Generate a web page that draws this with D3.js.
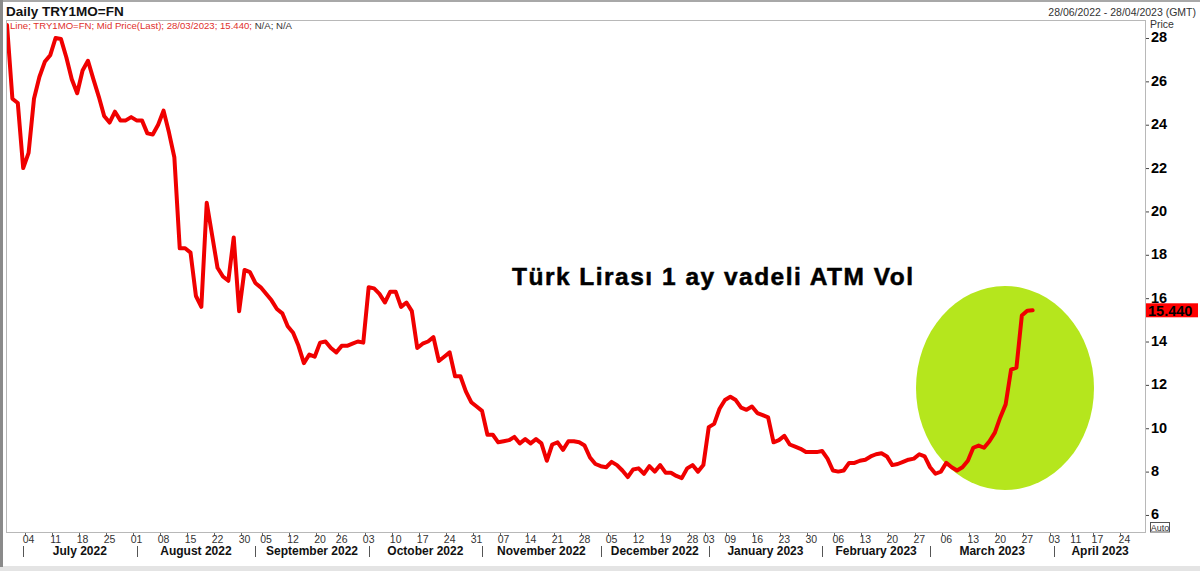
<!DOCTYPE html>
<html>
<head>
<meta charset="utf-8">
<script src="https://cdn.jsdelivr.net/npm/d3@7"></script>
<style>
  body { margin: 0; background: #fff; }
  svg { display: block; font-family: "Liberation Sans", Arial, sans-serif; }
</style>
</head>
<body>
<svg id="chart" width="1200" height="571"></svg>
<script>
// ---- data ----
const startDate = "2022-06-28";
const endDate = "2023-04-28";
// UK holidays, no trading day on the axis
const holidays = ["2022-08-29", "2022-09-19", "2022-12-26", "2022-12-27", "2023-01-02", "2023-04-07", "2023-04-10"];

// TRY1MO=FN mid price, one value per trading day from 28/06/2022 to 28/03/2023
const values = [
  28.6, 25.2, 25.0, 22.0, 22.7, 25.2, 26.2, 26.9, 27.2, 28.0,
  27.95, 27.1, 26.1, 25.45, 26.5, 26.95, 26.1, 25.3, 24.4, 24.1,
  24.6, 24.2, 24.2, 24.35, 24.2, 24.2, 23.6, 23.55, 24.0, 24.65,
  23.65, 22.5, 18.3, 18.3, 18.1, 16.1, 15.6, 20.4, 18.9, 17.4,
  17.0, 16.8, 18.8, 15.4, 17.3, 17.2, 16.7, 16.5, 16.2, 15.9,
  15.5, 15.3, 14.7, 14.4, 13.8, 13.0, 13.4, 13.3, 13.95, 14.0,
  13.7, 13.5, 13.8, 13.8, 13.9, 14.0, 13.95, 16.5, 16.45, 16.2,
  15.8, 16.3, 16.3, 15.6, 15.8, 15.4, 13.7, 13.9, 14.0, 14.2,
  13.1, 13.3, 13.5, 12.4, 12.4, 11.7, 11.2, 11.0, 10.8, 9.7,
  9.7, 9.35, 9.4, 9.45, 9.6, 9.3, 9.5, 9.3, 9.5, 9.3,
  8.5, 9.25, 9.35, 9.0, 9.4, 9.4, 9.35, 9.2, 8.65, 8.35,
  8.25, 8.2, 8.45, 8.3, 8.05, 7.75, 8.1, 8.15, 7.9, 8.25,
  8.0, 8.3, 7.95, 7.95, 7.8, 7.7, 8.15, 8.3, 8.0, 8.3,
  10.05, 10.2, 10.9, 11.3, 11.45, 11.3, 10.95, 10.85, 11.0, 10.7,
  10.6, 10.5, 9.35, 9.45, 9.65, 9.25, 9.15, 9.05, 8.9, 8.9,
  8.9, 8.95, 8.6, 8.05, 8.0, 8.05, 8.4, 8.4, 8.5, 8.55,
  8.7, 8.8, 8.85, 8.7, 8.3, 8.35, 8.45, 8.55, 8.6, 8.8,
  8.7, 8.2, 7.9, 8.0, 8.4, 8.2, 8.05, 8.2, 8.5, 9.1,
  9.2, 9.1, 9.4, 9.8, 10.5, 11.1, 12.7, 12.8, 15.2, 15.42,
  15.44
];

const tickDays = [
  "2022-07-04", "2022-07-11", "2022-07-18", "2022-07-25", "2022-08-01", "2022-08-08",
  "2022-08-15", "2022-08-22", "2022-08-30", "2022-09-05", "2022-09-12", "2022-09-20",
  "2022-09-26", "2022-10-03", "2022-10-10", "2022-10-17", "2022-10-24", "2022-10-31",
  "2022-11-07", "2022-11-14", "2022-11-21", "2022-11-28", "2022-12-05", "2022-12-12",
  "2022-12-19", "2022-12-28", "2023-01-03", "2023-01-09", "2023-01-16", "2023-01-23",
  "2023-01-30", "2023-02-06", "2023-02-13", "2023-02-20", "2023-02-27", "2023-03-06",
  "2023-03-13", "2023-03-20", "2023-03-27", "2023-04-03", "2023-04-11", "2023-04-17",
  "2023-04-24"
];
const priceTicks = [6, 8, 10, 12, 14, 16, 18, 20, 22, 24, 26, 28];
const lastLabel = "15.440";

// ---- layout ----
const svg = d3.select("#chart");
const plot = { left: 6, top: 20, right: 1145, bottom: 532 };

const fmt = d3.utcFormat("%Y-%m-%d");
const parse = d3.utcParse("%Y-%m-%d");

// trading calendar (weekdays minus holidays)
const tradingDays = d3.utcDay.range(parse(startDate), d3.utcDay.offset(parse(endDate), 1))
  .filter(d => d.getUTCDay() !== 0 && d.getUTCDay() !== 6 && !holidays.includes(fmt(d)));
const dayIndex = new Map(tradingDays.map((d, i) => [fmt(d), i]));

const x = d3.scaleLinear().domain([0, tradingDays.length - 1]).range([7, 1146]);
const y = d3.scaleLinear().domain([5.214, 28.83]).range([plot.bottom, plot.top]);

// outer frame
svg.append("rect").attr("x", 0).attr("y", 0).attr("width", 1200).attr("height", 571).attr("fill", "#fff");
svg.append("rect").attr("x", 0).attr("y", 566).attr("width", 1200).attr("height", 5).attr("fill", "#e4e4e4");
svg.append("rect").attr("x", 0).attr("y", 0).attr("width", 1200).attr("height", 2).attr("fill", "#a8a8a8");
svg.append("rect").attr("x", 0).attr("y", 0).attr("width", 3).attr("height", 567).attr("fill", "#8a8a8a");

// header
svg.append("text").attr("x", 6).attr("y", 16)
  .attr("font-size", 13.5).attr("font-weight", "bold").attr("fill", "#111")
  .text("Daily TRY1MO=FN");
svg.append("text").attr("x", 1196).attr("y", 16).attr("text-anchor", "end")
  .attr("font-size", 10.5).attr("fill", "#333")
  .text("28/06/2022 - 28/04/2023 (GMT)");

// plot frame
svg.append("rect")
  .attr("x", plot.left + 0.5).attr("y", plot.top + 0.5)
  .attr("width", plot.right - plot.left).attr("height", plot.bottom - plot.top)
  .attr("fill", "none").attr("stroke", "#b8b8b8");

svg.append("clipPath").attr("id", "clip")
  .append("rect")
  .attr("x", plot.left + 1).attr("y", plot.top + 1)
  .attr("width", plot.right - plot.left - 1).attr("height", plot.bottom - plot.top - 1);

const g = svg.append("g").attr("clip-path", "url(#clip)");

// green highlight
g.append("ellipse")
  .attr("cx", 1005).attr("cy", 388).attr("rx", 89).attr("ry", 102)
  .attr("fill", "#b5e61d");

// title
g.append("text").attr("x", 512).attr("y", 285)
  .attr("font-size", 24.5).attr("font-weight", "bold").attr("fill", "#000")
  .attr("stroke", "#000").attr("stroke-width", 0.5)
  .attr("textLength", 401).attr("lengthAdjust", "spacing")
  .text("Türk Lirası 1 ay vadeli ATM Vol");

// price line
const line = d3.line()
  .x((d, i) => x(i))
  .y(d => y(d));

g.append("path")
  .datum(values)
  .attr("d", line)
  .attr("fill", "none")
  .attr("stroke", "#f00000")
  .attr("stroke-width", 4)
  .attr("stroke-linejoin", "round")
  .attr("stroke-linecap", "round");

// legend line
const legend = svg.append("text").attr("x", 10).attr("y", 29).attr("font-size", 9.6);
legend.append("tspan").attr("fill", "#e0302c")
  .text("Line; TRY1MO=FN; Mid Price(Last); 28/03/2023; 15.440; ");
legend.append("tspan").attr("fill", "#333").text("N/A; N/A");

// ---- y axis (right) ----
svg.append("text").attr("x", 1150).attr("y", 28)
  .attr("font-size", 10.5).attr("fill", "#333").text("Price");

const yAxis = svg.append("g");
yAxis.selectAll("line")
  .data(priceTicks)
  .join("line")
  .attr("x1", plot.right + 1).attr("x2", plot.right + 4)
  .attr("y1", d => y(d) + 0.5).attr("y2", d => y(d) + 0.5)
  .attr("stroke", "#444");
yAxis.selectAll("text")
  .data(priceTicks)
  .join("text")
  .attr("x", plot.right + 6)
  .attr("y", d => y(d) + 4.5)
  .attr("font-size", 14.5).attr("font-weight", "bold").attr("fill", "#000")
  .text(d => d);

// last price tag
const lastY = y(values[values.length - 1]);
svg.append("rect").attr("x", plot.right + 1).attr("y", lastY - 7)
  .attr("width", 52).attr("height", 14).attr("fill", "#ff0000");
svg.append("text").attr("x", plot.right + 3).attr("y", lastY + 5.5)
  .attr("font-size", 14.5).attr("font-weight", "bold").attr("fill", "#000")
  .text(lastLabel);

// "Auto" button
svg.append("rect").attr("x", 1150.5).attr("y", 522.5).attr("width", 19).attr("height", 9.5)
  .attr("fill", "#fff").attr("stroke", "#555");
svg.append("text").attr("x", 1160).attr("y", 530.5).attr("text-anchor", "middle")
  .attr("font-size", 9).attr("fill", "#333").text("Auto");

// ---- x axis ----
const xAxis = svg.append("g");
const ticks = tickDays.map(s => ({ s, i: dayIndex.get(s) }));

xAxis.selectAll(".tk")
  .data(ticks)
  .join("line").attr("class", "tk")
  .attr("x1", d => Math.round(x(d.i)) - 3.5).attr("x2", d => Math.round(x(d.i)) - 3.5)
  .attr("y1", plot.bottom + 1).attr("y2", plot.bottom + 4)
  .attr("stroke", "#666");

xAxis.selectAll(".dl")
  .data(ticks)
  .join("text").attr("class", "dl")
  .attr("x", d => x(d.i)).attr("y", plot.bottom + 11)
  .attr("text-anchor", "middle").attr("font-size", 10.5).attr("fill", "#333")
  .text(d => d3.utcFormat("%d")(parse(d.s)));

// months: first trading day of each month
const monthStarts = [];
tradingDays.forEach((d, i) => {
  if (i === 0 || d.getUTCMonth() !== tradingDays[i - 1].getUTCMonth()) monthStarts.push({ d, i });
});
const months = monthStarts.slice(1).map((m, k, arr) => ({
  label: d3.utcFormat("%B %Y")(m.d),
  x0: x(m.i),
  x1: k < arr.length - 1 ? x(arr[k + 1].i) : x(tradingDays.length - 1)
}));

xAxis.selectAll(".sep")
  .data(months)
  .join("line").attr("class", "sep")
  .attr("x1", d => Math.round(d.x0) + 0.5).attr("x2", d => Math.round(d.x0) + 0.5)
  .attr("y1", plot.bottom + 14).attr("y2", plot.bottom + 25)
  .attr("stroke", "#555");

xAxis.selectAll(".ml")
  .data(months)
  .join("text").attr("class", "ml")
  .attr("x", d => (d.x0 + d.x1) / 2).attr("y", plot.bottom + 23)
  .attr("text-anchor", "middle").attr("font-size", 12).attr("font-weight", "bold").attr("fill", "#111")
  .text(d => d.label);
</script>
</body>
</html>
